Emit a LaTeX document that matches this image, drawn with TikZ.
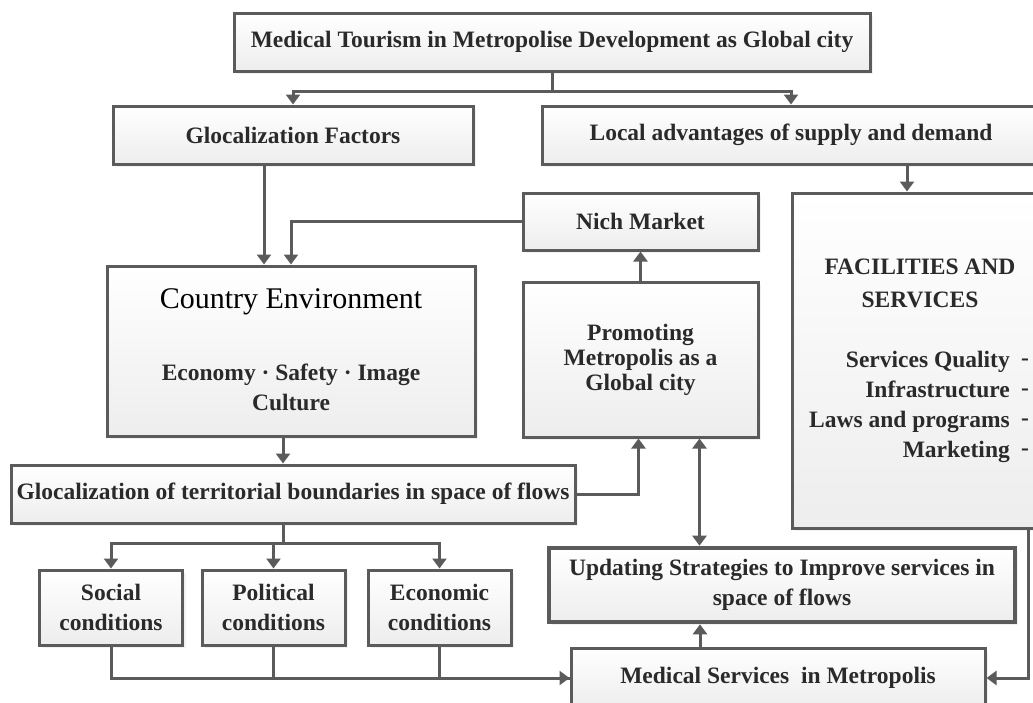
\documentclass[tikz,border=0pt]{standalone}
\usepackage{fontspec}
\setmainfont{Liberation Serif}
\usepackage{tikz}
\usetikzlibrary{shadows}
\usetikzlibrary{arrows.meta}
\definecolor{linegray}{HTML}{5B5B5B}
\definecolor{textgray}{HTML}{2A2A2A}
\tikzstyle{box}=[rectangle,draw=linegray,line width=3pt,top color=white,bottom color=black!7,drop shadow={shadow xshift=3pt,shadow yshift=-3pt,fill=black!10},inner sep=0pt,align=center,text=textgray,font=\fontsize{23.5}{30}\selectfont\bfseries]
\tikzstyle{thickbox}=[box,line width=4.6pt]
\tikzstyle{txt}=[inner sep=0pt,align=center,text=textgray,font=\fontsize{23.5}{30}\selectfont\bfseries]
\tikzstyle{bigtxt}=[inner sep=0pt,text=black,font=\fontsize{30}{34}\selectfont]
\tikzstyle{plainedge} = [draw,linegray,line width=3pt]
\tikzstyle{edge} = [plainedge,-{Triangle[width=14pt,length=10pt]}]
\tikzstyle{dbledge} = [plainedge,{Triangle[width=14pt,length=10pt]}-{Triangle[width=14pt,length=10pt]}]

\begin{document}
\begin{tikzpicture}[x=1pt,y=-1pt]
   \useasboundingbox (0,0) rectangle (1033,702);
   \clip (0,0) rectangle (1033,702);

   % upper row
   \node[box,minimum width=636pt,minimum height=58pt] (top) at (552,42) {Medical Tourism in Metropolise Development as Global city};
   \node[box,minimum width=360pt,minimum height=58pt] (gfac) at (293,135) {Glocalization Factors};
   \node[box,minimum width=498pt,minimum height=58pt] (local) at (791,135) {Local advantages of supply and demand};

   % middle
   \node[box,minimum width=235pt,minimum height=57pt] (nich) at (640.5,221.5) {Nich Market};
   \node[box,minimum width=368pt,minimum height=170pt] (country) at (291,351) {};
   \node[bigtxt] (countrytitle) at (291,302) {Country Environment};
   \node[txt] (countryitems) at (291,387) {Economy · Safety · Image\\Culture};
   \node[box,minimum width=235pt,minimum height=155pt,font=\fontsize{23.5}{25}\selectfont\bfseries] (promo) at (640.5,359.5) {Promoting\\Metropolis as a\\Global city};
   \node[box,minimum width=253pt,minimum height=335pt] (fac) at (918.5,360.5) {};
   \node[txt,font=\fontsize{23.5}{33}\selectfont\bfseries] (factitle) at (920,283) {FACILITIES AND\\SERVICES};
   \node[txt,align=right,anchor=east] (faclist) at (1010,407) {Services Quality\\Infrastructure\\Laws and programs\\Marketing};
   \node[txt,anchor=west] (facdash) at (1021,407) {-\\-\\-\\-};

   % lower part
   \node[box,minimum width=564pt,minimum height=58pt] (terr) at (293,494) {Glocalization of territorial boundaries in space of flows};
   \foreach \pos/\name/\label in {{(111,607.5)/social/Social}, {(273.5,607.5)/political/Political}, {(439.5,607.5)/economic/Economic}}
        \node[box,minimum width=143pt,minimum height=75pt] (\name) at \pos {\label\\conditions};
   \node[thickbox,minimum width=466pt,minimum height=74pt] (upd) at (782,585) {Updating Strategies to Improve services in\\space of flows};
   \node[box,minimum width=414pt,minimum height=60pt] (med) at (778,678) {Medical Services\ \ in Metropolis};

   % connectors
   \draw[plainedge] (top.south) -- ++(0,19) coordinate (split);
   \foreach \dest in {gfac, local}
          \path[edge] (split) -| (\dest.north);
   \path[edge] ([xshift=-29pt]gfac.south) -- ([xshift=-29pt]gfac.south |- country.north);
   \path[edge] (nich.west) -| (country.north);
   \path[edge] (promo.north) -- (nich.south);
   \path[edge] ([xshift=-8pt]country.south) -- ([xshift=-8pt]country.south |- terr.north);
   \path[edge] (terr.east) -| ([xshift=-2pt]promo.south);
   \path[dbledge] ([xshift=59pt]promo.south) -- ([xshift=59pt]promo.south |- upd.north);
   \path[edge] ([xshift=116pt]local.south) -- ([xshift=116pt]local.south |- fac.north);

   \draw[plainedge] ([xshift=-10pt]terr.south) -- ++(0,19) coordinate (split2);
   \foreach \dest in {social, political, economic}
          \path[edge] (split2) -| (\dest.north);
   \foreach \source in {political, economic}
          \path[plainedge] (\source.south) |- (med.west);
   \path[edge] (social.south) |- (med.west);
   \path[edge] ([xshift=-78pt]med.north) -- ([xshift=-78pt]med.north |- upd.south);
   \path[edge] ([xshift=109.5pt]fac.south) |- (med.east);
\end{tikzpicture}
\end{document}
